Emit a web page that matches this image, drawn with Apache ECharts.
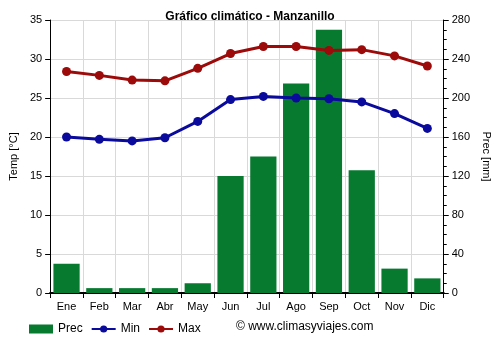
<!DOCTYPE html>
<html><head><meta charset="utf-8">
<script src="https://cdn.jsdelivr.net/npm/echarts@6/dist/echarts.min.js"></script>
<style>html,body{margin:0;padding:0;background:#fff}#c{width:500px;height:350px}</style>
</head><body><div id="c"></div>
<script>
const months = ['Ene','Feb','Mar','Abr','May','Jun','Jul','Ago','Sep','Oct','Nov','Dic'];
const prec = [30, 5, 5, 5, 10, 120, 140, 215, 270, 126, 25, 15];
const tmin = [20, 19.7, 19.5, 19.9, 22, 24.8, 25.2, 25, 24.9, 24.5, 23, 21.1];
const tmax = [28.4, 27.9, 27.3, 27.2, 28.8, 30.7, 31.6, 31.6, 31.1, 31.2, 30.4, 29.1];

const chart = echarts.init(document.getElementById('c'), null, {renderer:'canvas'});
const font = 'Arial, "Liberation Sans", sans-serif';
chart.setOption({
  animation:false,
  title:{text:'Gráfico climático - Manzanillo', left:'center', top:6,
    textStyle:{fontSize:12, fontWeight:'bold', color:'#000', fontFamily:font}},
  grid:{left:49, right:54, top:20, bottom:57},
  legend:{top:318, left:24, itemGap:8, itemWidth:24, itemHeight:9,
    textStyle:{fontSize:12, color:'#000', fontFamily:font},
    data:[{name:'Prec', icon:'rect'},{name:'Min'},{name:'Max'}]},
  graphic:[{type:'text', left:236, top:321,
    style:{text:'© www.climasyviajes.com', fontSize:12, fill:'#000', fontFamily:font}}],
  xAxis:{type:'category', data:months,
    axisLine:{lineStyle:{color:'#000', width:2}},
    axisTick:{show:true, alignWithLabel:false, lineStyle:{color:'#000'}},
    axisLabel:{color:'#000', fontSize:11, fontFamily:font, margin:8},
    splitLine:{show:true, lineStyle:{color:'#d9d9d9'}}},
  yAxis:[
    {type:'value', min:0, max:35, interval:5, name:'Temp [°C]', nameLocation:'middle', nameGap:30,
     nameTextStyle:{color:'#000', fontSize:11, fontFamily:font},
     axisLine:{show:true, lineStyle:{color:'#000'}}, axisTick:{show:true, lineStyle:{color:'#000'}},
     axisLabel:{color:'#000', fontSize:11, fontFamily:font},
     splitLine:{lineStyle:{color:'#d9d9d9'}}},
    {type:'value', min:0, max:280, interval:40, name:'Prec [mm]', nameLocation:'middle', nameGap:32,
     nameRotate:-90,
     nameTextStyle:{color:'#000', fontSize:11, fontFamily:font},
     axisLine:{show:true, lineStyle:{color:'#000'}}, axisTick:{show:true, lineStyle:{color:'#000'}},
     minorTick:{show:true, splitNumber:4, length:3, lineStyle:{color:'#000'}},
     axisLabel:{color:'#000', fontSize:11, fontFamily:font},
     splitLine:{show:false}}
  ],
  series:[
    {name:'Prec', type:'bar', yAxisIndex:1, data:prec, barWidth:'80%',
     itemStyle:{color:'#077a30'}},
    {name:'Min', type:'line', yAxisIndex:0, data:tmin, symbol:'circle', symbolSize:9,
     lineStyle:{color:'#0a0a9c', width:3}, itemStyle:{color:'#0a0a9c'}},
    {name:'Max', type:'line', yAxisIndex:0, data:tmax, symbol:'circle', symbolSize:9,
     lineStyle:{color:'#9c0a0a', width:3}, itemStyle:{color:'#9c0a0a'}}
  ]
});
</script></body></html>
